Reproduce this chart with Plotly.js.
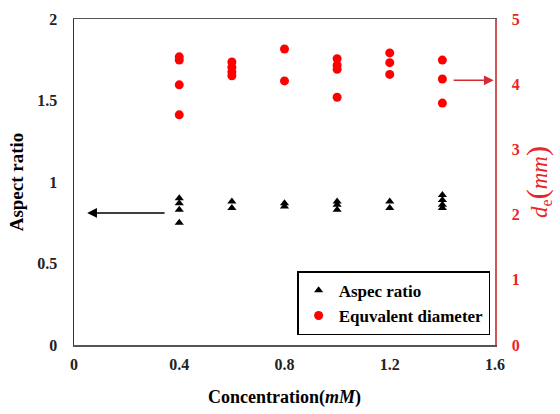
<!DOCTYPE html>
<html>
<head>
<meta charset="utf-8">
<script src="https://cdn.plot.ly/plotly-3.0.1.min.js"></script>
<style>html,body{margin:0;padding:0;background:#fff;}</style>
</head>
<body>
<div id="chart" style="width:560px;height:414px;"></div>
<script>
// Aspect ratio measurements (concentration in mM)
const arConc = [0.4,0.4,0.4,0.4, 0.6,0.6, 0.8,0.8, 1.0,1.0,1.0, 1.2,1.2, 1.4,1.4,1.4,1.4];
const arVals = [0.90,0.87,0.83,0.75, 0.88,0.84, 0.87,0.85, 0.88,0.86,0.83, 0.88,0.84, 0.92,0.89,0.86,0.84];
// Equivalent diameter measurements (mm)
const deConc = [0.4,0.4,0.4,0.4, 0.6,0.6,0.6,0.6, 0.8,0.8, 1.0,1.0,1.0,1.0, 1.2,1.2,1.2, 1.4,1.4,1.4];
const deVals = [4.42,4.37,3.99,3.53, 4.34,4.26,4.19,4.13, 4.54,4.05, 4.39,4.29,4.23,3.80, 4.48,4.33,4.15, 4.37,4.08,3.71];
const xTicks = [0, 0.4, 0.8, 1.2, 1.6];
const yTicks = [0, 0.5, 1, 1.5, 2];
const y2Ticks = [0, 1, 2, 3, 4, 5];

const serif = 'Liberation Serif, Times New Roman, serif';
const red = '#e8262a';

const traces = [
  {x: arConc, y: arVals, type: 'scatter', mode: 'markers', name: 'Aspec ratio',
   marker: {symbol: 'triangle-up', size: 8, color: '#000'}, yaxis: 'y'},
  {x: deConc, y: deVals, type: 'scatter', mode: 'markers', name: 'Equvalent diameter',
   marker: {symbol: 'circle', size: 9, color: '#ff0000'}, yaxis: 'y2'}
];

const layout = {
  width: 560, height: 414,
  margin: {l: 74, r: 65, t: 19, b: 69},
  paper_bgcolor: '#fff', plot_bgcolor: '#fff',
  showlegend: true,
  font: {family: serif, color: '#000'},
  xaxis: {
    range: [0, 1.6], tickvals: xTicks, ticktext: xTicks.map(String),
    showgrid: false, zeroline: false, showline: true, linecolor: '#555', linewidth: 1.5, mirror: true,
    ticks: '', ticklabelstandoff: 4,
    tickfont: {family: serif, size: 16, weight: 'bold', color: '#222'},
    title: {text: 'Concentration(<i>mM</i>)', font: {family: serif, size: 18, weight: 'bold', color: '#000'}, standoff: 18}
  },
  yaxis: {
    range: [0, 2], tickvals: yTicks, ticktext: ['0','0.5','1','1.5','2'],
    showgrid: false, zeroline: false, showline: true, linecolor: '#333', linewidth: 1.5,
    ticks: '', ticklabelstandoff: 12,
    tickfont: {family: serif, size: 16, weight: 'bold', color: '#222'},
    title: {text: 'Aspect ratio', font: {family: serif, size: 19, weight: 'bold', color: '#000'}, standoff: 8}
  },
  yaxis2: {
    range: [0, 5], tickvals: y2Ticks, ticktext: y2Ticks.map(String),
    overlaying: 'y', side: 'right',
    showgrid: false, zeroline: false, showline: true, linecolor: '#c8585a', linewidth: 1.5,
    ticks: '', ticklabelstandoff: 12,
    tickfont: {family: serif, size: 16, weight: 'bold', color: red},
    title: {text: '<i>d</i><sub>e</sub><span style="font-size:30px">(</span><i>mm</i><span style="font-size:30px">)</span>', font: {family: serif, size: 23, color: red}, standoff: 8}
  },
  legend: {
    x: 0.53, y: 0.226, xanchor: 'left', yanchor: 'top',
    bgcolor: '#fff', bordercolor: '#000', borderwidth: 1.5,
    font: {family: serif, size: 17, weight: 'bold', color: '#000'},
    itemwidth: 30
  },
  annotations: [
    {x: 0.05, y: 0.81, ax: 0.35, ay: 0.81, xref: 'x', yref: 'y', axref: 'x', ayref: 'y',
     text: '', showarrow: true, arrowhead: 2, arrowsize: 1.3, arrowwidth: 1.5, arrowcolor: '#000'},
    {x: 1.595, y: 4.06, ax: 1.437, ay: 4.06, xref: 'x', yref: 'y2', axref: 'x', ayref: 'y2',
     text: '', showarrow: true, arrowhead: 2, arrowsize: 1.3, arrowwidth: 1.5, arrowcolor: '#d42a30'}
  ]
};

Plotly.newPlot('chart', traces, layout, {displayModeBar: false, staticPlot: true});
</script>
</body>
</html>
